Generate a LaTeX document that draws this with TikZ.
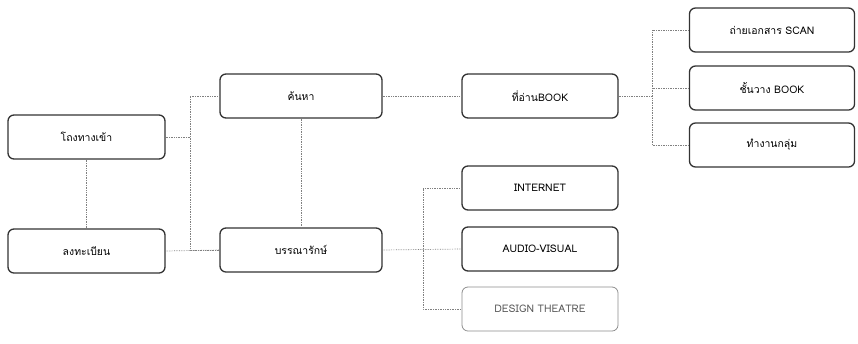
\documentclass[tikz,border=0pt]{standalone}
\usepackage{fontspec}
\newfontfamily\thaifont[Script=Thai]{Loma}
\usetikzlibrary{calc}

\tikzset{
  box/.style={draw=black!80, line width=1.3pt, rounded corners=6pt,
    minimum height=44bp, inner sep=2pt, font=\thaifont\fontsize{10.5}{12}\selectfont},
  faint/.style={box, draw=black!45, line width=0.8pt, text=black!65},
  link/.style={densely dotted, black!50, line width=0.7pt}
}

\begin{document}
\begin{tikzpicture}[x=1bp, y=-1bp]
  \useasboundingbox (0,0) rectangle (858,343);

  % Left column
  \node[box, minimum width=157bp] (hall) at (86.5,137) {โถงทางเข้า};
  \node[box, minimum width=157bp] (register) at (86.5,251) {ลงทะเบียน};

  % Centre column
  \node[box, minimum width=162bp] (search) at (301,96) {ค้นหา};
  \node[box, minimum width=162bp] (librarian) at (301,250) {บรรณารักษ์};

  % Second column
  \node[box, minimum width=156bp] (reading) at (540,96) {ที่อ่านBOOK};
  \node[box, minimum width=156bp] (internet) at (540,188) {INTERNET};
  \node[box, minimum width=156bp] (audio) at (540,249) {AUDIO-VISUAL};
  \node[faint, minimum width=156bp] (design) at (540,309) {DESIGN THEATRE};

  % Right column
  \node[box, minimum width=165bp] (scan) at (772,30) {ถ่ายเอกสาร SCAN};
  \node[box, minimum width=165bp] (shelf) at (772,88) {ชั้นวาง BOOK};
  \node[box, minimum width=165bp] (group) at (772,145) {ทำงานกลุ่ม};

  % Trunk lines
  \coordinate (trunkA) at (190,0);
  \coordinate (trunkB) at (423,0);
  \coordinate (trunkC) at (652,0);

  % Entrance to search / librarian
  \draw[link] (hall.east) -- (hall.east -| trunkA);
  \draw[link] (search.west) -| (trunkA |- librarian.west) -- (librarian.west);
  \draw[link] (hall.south) -- (register.north);
  \draw[link] (register.east) -- (librarian.west);
  \draw[link] (search.south) -- (librarian.north);

  % Search to reading area
  \draw[link] (search.east) -- (reading.west);
  \draw[link] (reading.east) -- (reading.east -| trunkC);
  \draw[link] (scan.west) -| (trunkC |- group.west) -- (group.west);
  \draw[link] (shelf.west) -- (shelf.west -| trunkC);

  % Librarian to media
  \draw[link] (librarian.east) -- (audio.west);
  \draw[link] (internet.west) -| (trunkB |- design.west) -- (design.west);
\end{tikzpicture}
\end{document}
